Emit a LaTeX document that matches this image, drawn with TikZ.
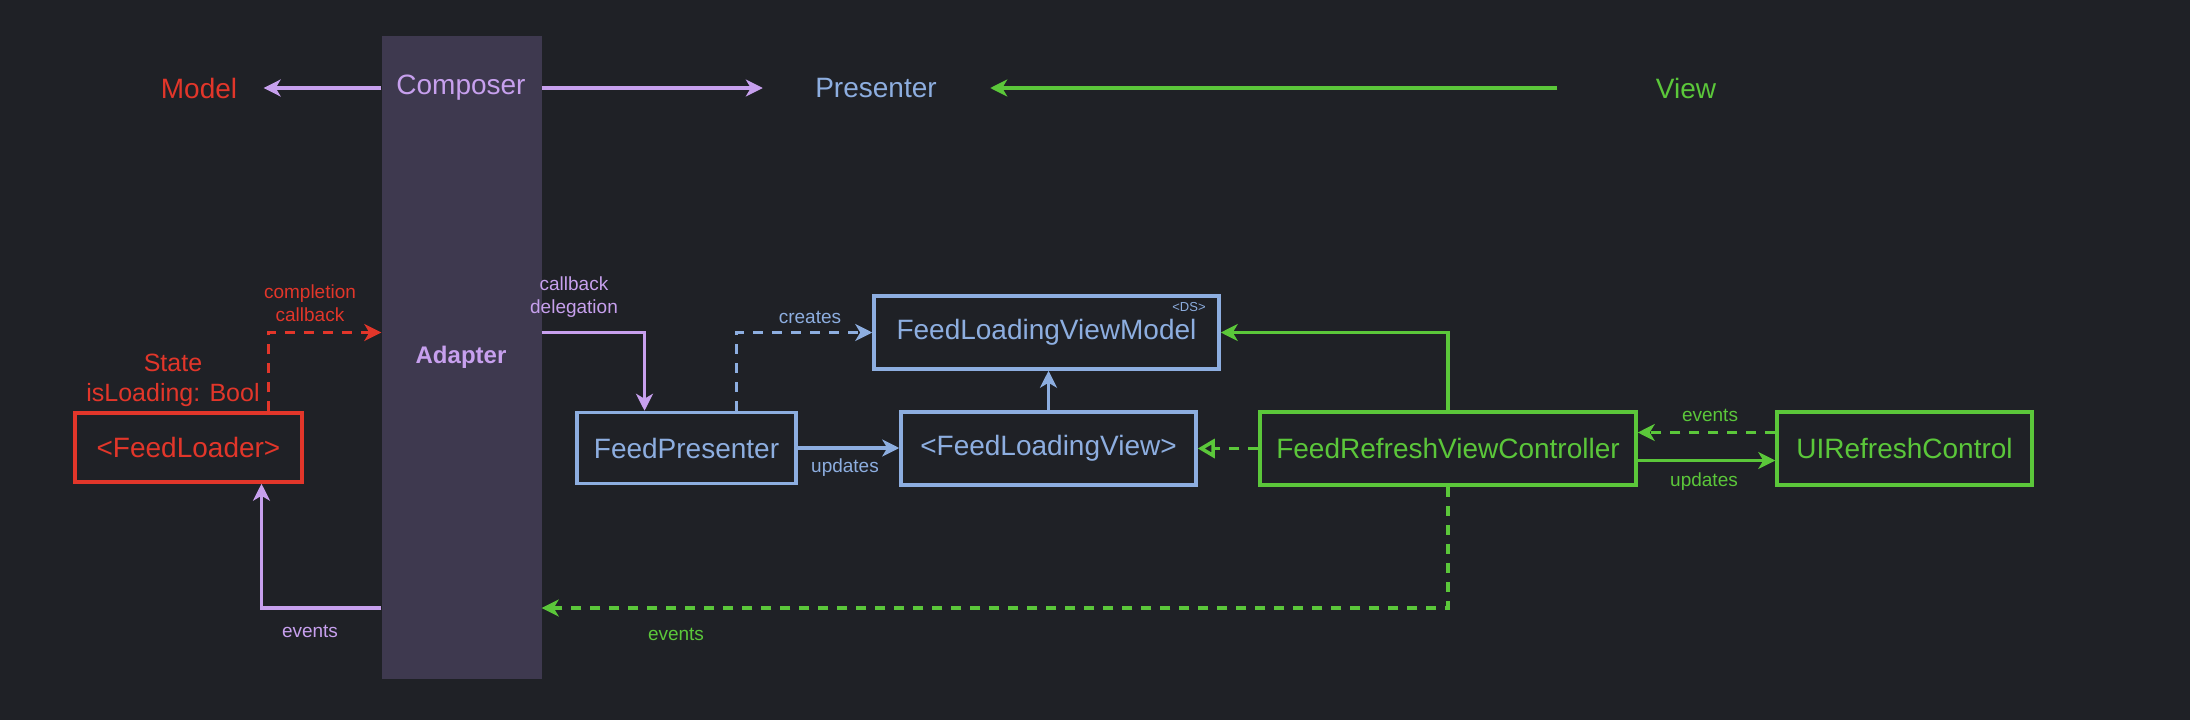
\documentclass[tikz,border=0pt]{standalone}
\usepackage{fontspec}
\setmainfont{Liberation Sans}
\usetikzlibrary{arrows.meta}
\definecolor{bgdark}{HTML}{1F2126}
\definecolor{barfill}{HTML}{3E394F}
\definecolor{lilac}{HTML}{C7A0EE}
\definecolor{redc}{HTML}{E2362A}
\definecolor{bluec}{HTML}{8DAEE0}
\definecolor{greenc}{HTML}{5BC73A}
\begin{document}
\begin{tikzpicture}[x=1pt, y=-1pt,
  box/.style = {draw, line width=3.5pt, inner sep=0pt, font=\fontsize{28}{32}\selectfont},
  redbox/.style = {box, draw=redc, text=redc},
  bluebox/.style = {box, draw=bluec, text=bluec},
  greenbox/.style = {box, draw=greenc, text=greenc},
  layer/.style = {font=\fontsize{28}{32}\selectfont},
  note/.style = {font=\fontsize{19}{23}\selectfont, align=center},
  link/.style = {line width=3.5pt, -{Stealth[length=17pt,width=17pt,inset=5pt]}},
  dashlink/.style = {link, dash pattern=on 10pt off 9pt}]
\useasboundingbox[fill=bgdark] (0,0) rectangle (2190,720);
% composer column
\node[fill=barfill, minimum width=160pt, minimum height=643pt, inner sep=0pt] (bar) at (461.5,357.5) {};
\node[layer, text=lilac] (composer) at (461,88) {Composer};
\node[text=lilac, font=\bfseries\fontsize{24}{28}\selectfont] (adapter) at (461,357) {Adapter};
% layers
\node[layer, text=redc] (model) at (199,88) {Model};
\node[layer, text=bluec] (presenter) at (876,88) {Presenter};
\node[layer, text=greenc] (view) at (1686,88) {View};
\draw[link, lilac] (bar.west |- composer) -- ([xshift=23pt]model.east);
\draw[link, lilac] (bar.east |- composer) -- ([xshift=-49pt]presenter.west);
\draw[link, greenc] ([xshift=-95pt]view.west) -- ([xshift=50pt]presenter.east);
% boxes
\node[redbox, minimum width=227pt, minimum height=69pt] (loader) at (188.5,447.5) {<FeedLoader>};
\node[bluebox, minimum width=219pt, minimum height=71pt] (fp) at (686.5,448) {FeedPresenter};
\node[bluebox, minimum width=345pt, minimum height=73pt] (vm) at (1046.5,332.5) {FeedLoadingViewModel};
\node[bluebox, minimum width=295pt, minimum height=73pt] (flv) at (1048.5,448.5) {<FeedLoadingView>};
\node[greenbox, minimum width=376pt, minimum height=73pt] (frvc) at (1448,448.5) {FeedRefreshViewController};
\node[greenbox, minimum width=255pt, minimum height=73pt] (uirc) at (1904.5,448.5) {UIRefreshControl};
\node[text=bluec, font=\fontsize{13}{15}\selectfont] (ds) at (1189,307) {<DS>};
\coordinate (eventsrow) at (461,608);
% red side
\node[text=redc, font=\fontsize{25}{30}\selectfont, align=center] (state) at (173,380) {State\\isLoading: Bool};
\draw[dashlink, redc] ([xshift=80pt]loader.north) |- (bar.west |- vm);
\node[note, text=redc] (completion) at (310,303) {completion\\callback};
\draw[link, lilac] (bar.west |- eventsrow) -| ([xshift=73pt]loader.south);
\node[note, text=lilac] (ev1) at (310,631) {events};
% presenter side
\draw[link, lilac] (bar.east |- vm) -| ([xshift=-42pt]fp.north);
\node[note, text=lilac] (delegation) at (574,297) {callback\\delegation};
\draw[dashlink, bluec] ([xshift=50pt]fp.north) |- (vm.west);
\node[note, text=bluec] (creates) at (810,317) {creates};
\draw[link, bluec] (fp.east) -- (fp.east -| flv.west);
\node[note, text=bluec] (upd1) at (845,468) {updates};
\draw[link, bluec] (flv.north) -- (flv.north |- vm.south);
% view side
\draw[line width=3.5pt, greenc, dash pattern=on 10pt off 9pt, -{Triangle[open,length=17pt,width=19pt]}] (frvc.west) -- (flv.east);
\draw[link, greenc] (frvc.north) |- (vm.east);
\draw[dashlink, greenc] ([yshift=16pt]uirc.west) -- ([yshift=16pt]frvc.east);
\node[note, text=greenc] (ev2) at (1710,415) {events};
\draw[link, greenc] ([yshift=-12pt]frvc.east) -- ([yshift=-12pt]uirc.west);
\node[note, text=greenc] (upd2) at (1704,482) {updates};
\draw[dashlink, greenc] (frvc.south) |- (bar.east |- eventsrow);
\node[note, text=greenc] (ev3) at (676,634) {events};
\end{tikzpicture}
\end{document}
